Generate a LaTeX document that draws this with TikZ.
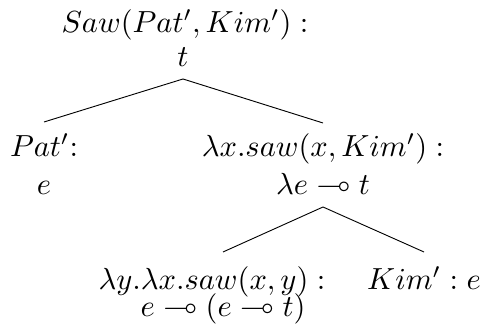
\documentclass[tikz,border=0pt]{standalone}
\usepackage{amssymb}
\begin{document}
\begin{tikzpicture}[x=0.3279pt,y=-0.3279pt,
  lbl/.style={anchor=base,inner sep=0pt,font=\normalsize},
  edge/.style={line width=0.3pt}]
\useasboundingbox (0,0) rectangle (483,332);
\node[lbl] (root) at (185,33) {$Saw(Pat',Kim'):$};
\node[lbl] (roott) at (183,67) {$t$};
\node[lbl] (pat) at (44,157) {$Pat'$:};
\node[lbl] (pate) at (44,195) {$e$};
\node[lbl] (lam) at (323,157) {$\lambda x.saw(x,Kim'):$};
\node[lbl] (lamt) at (323,195) {$\lambda e\multimap t$};
\node[lbl] (saw) at (212,290) {$\lambda y.\lambda x.saw(x,y):$};
\node[lbl] (sawt) at (223,317) {$e\multimap(e\multimap t)$};
\node[lbl] (kim) at (424,290) {$Kim':e$};
\draw[edge] ([shift={(0,12)}]roott.base) -- ([shift={(0,-35)}]pat.base);
\draw[edge] ([shift={(0,12)}]roott.base) -- ([shift={(0,-34)}]lam.base);
\draw[edge] ([shift={(0,12)}]lamt.base) -- ([shift={(0,-65)}]sawt.base);
\draw[edge] ([shift={(0,12)}]lamt.base) -- ([shift={(0,-38)}]kim.base);
\end{tikzpicture}
\end{document}
